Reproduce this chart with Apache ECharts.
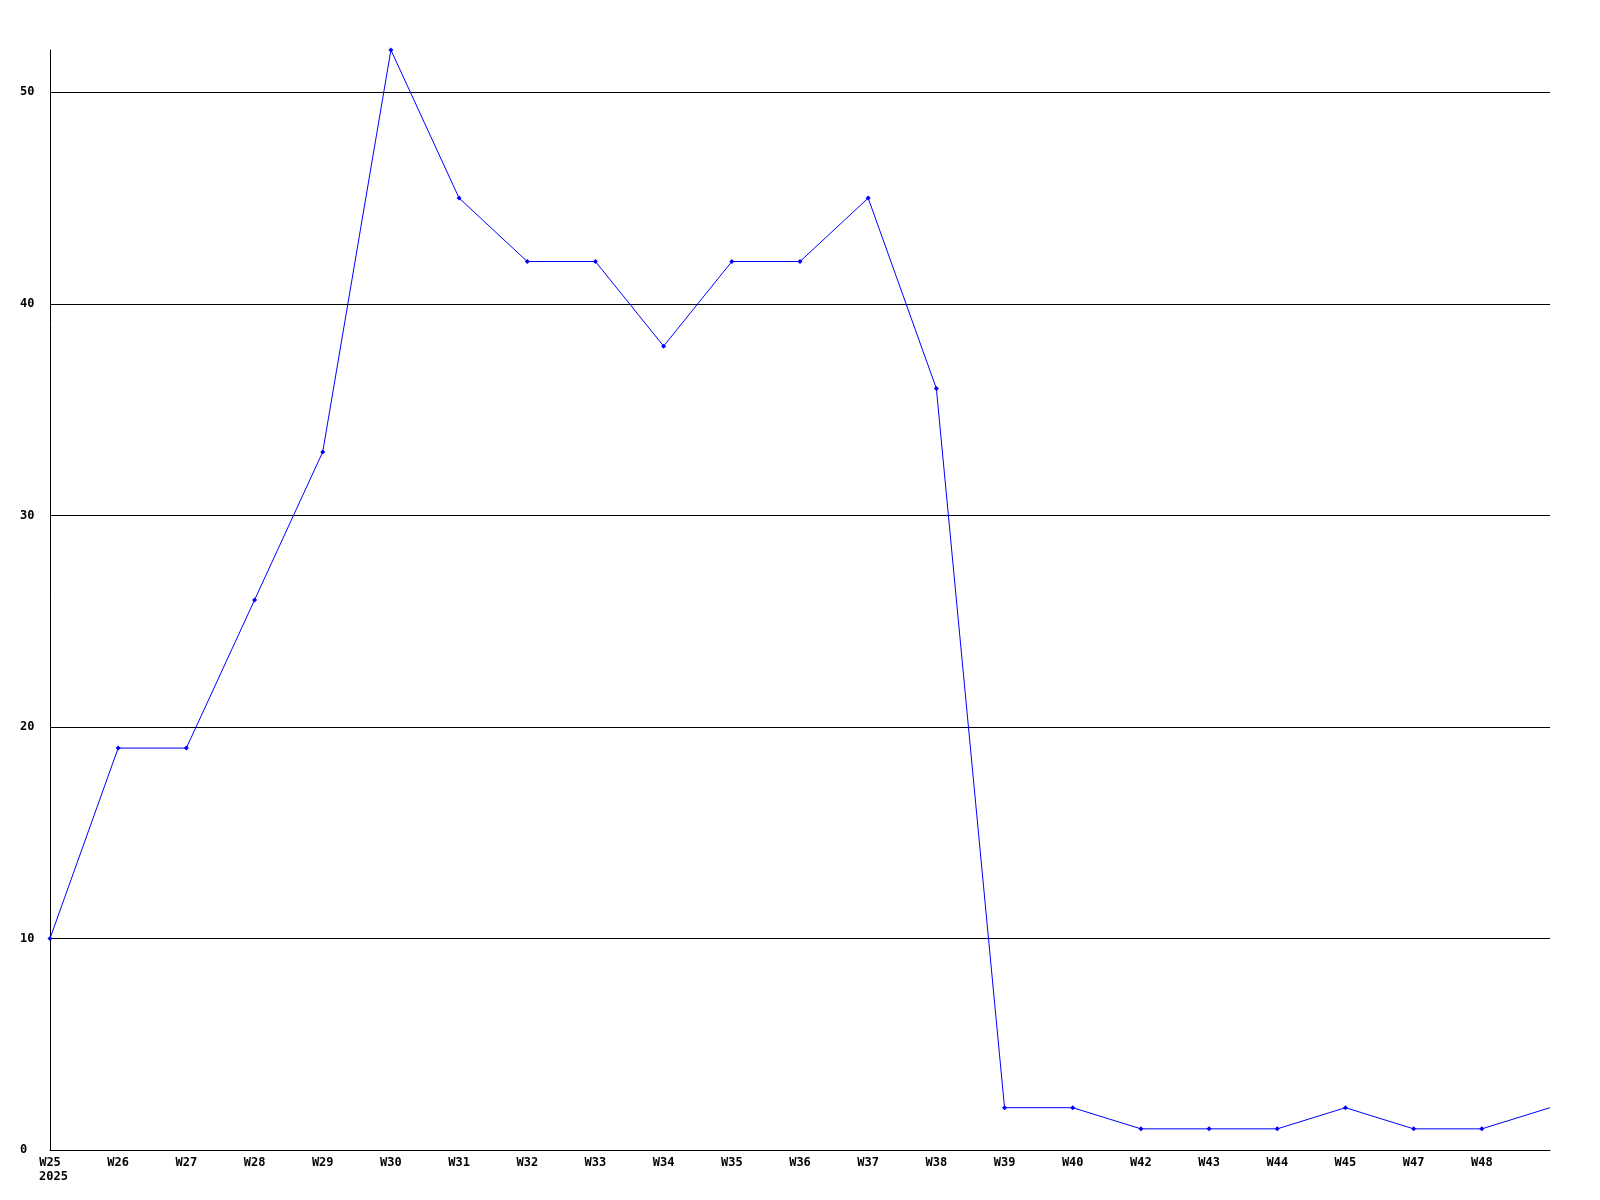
<!DOCTYPE html>
<html><head><meta charset="utf-8">
<script src="https://cdn.jsdelivr.net/npm/echarts@6/dist/echarts.min.js"></script>
<style>html,body{margin:0;padding:0;background:#fff}#c{width:1600px;height:1200px}</style>
</head><body><div id="c"></div>
<script>
const categories = ['W25','W26','W27','W28','W29','W30','W31','W32','W33','W34','W35','W36','W37','W38','W39','W40','W42','W43','W44','W45','W47','W48',''];
const values = [10,19,19,26,33,52,45,42,42,38,42,42,45,36,2,2,1,1,1,2,1,1,2];
const yearLabel = '2025';

const font = {fontFamily:'DejaVu Sans Mono', fontWeight:'bold', fontSize:12, color:'#000'};
const chart = echarts.init(document.getElementById('c'));
chart.setOption({
  animation:false,
  backgroundColor:'#fff',
  grid:{left:50,right:50,top:50,bottom:50,containLabel:false},
  xAxis:{
    type:'category', data:categories, boundaryGap:false,
    axisLine:{show:true,lineStyle:{color:'#000',width:1}},
    axisTick:{show:false},
    splitLine:{show:false},
    axisLabel:Object.assign({}, font, {
      interval:0, margin:6, lineHeight:14,
      formatter:function(v,i){ return i===0 ? '{a|'+v+'}\n{b|'+yearLabel+'}' : v; },
      rich:{
        a:Object.assign({}, font, {width:36, align:'center', lineHeight:14}),
        b:Object.assign({}, font, {width:36, align:'right', lineHeight:14})
      }
    })
  },
  yAxis:{
    type:'value', min:0, max:52, interval:10,
    axisLine:{show:true,lineStyle:{color:'#000',width:1}},
    axisTick:{show:false},
    splitLine:{show:true, showMaxLine:false, lineStyle:{color:'#000',width:1}},
    axisLabel:Object.assign({}, font, {align:'left', margin:30, showMaxLabel:false, padding:[3,0,0,0]})
  },
  series:[{
    type:'line',
    data:values.map(function(v,i){ return i===values.length-1 ? {value:v, symbol:'none'} : v; }),
    lineStyle:{color:'#0000ff',width:1},
    itemStyle:{color:'#0000ff'},
    symbol:'diamond', symbolSize:5, showSymbol:true,
    z:5
  }]
});
</script></body></html>
